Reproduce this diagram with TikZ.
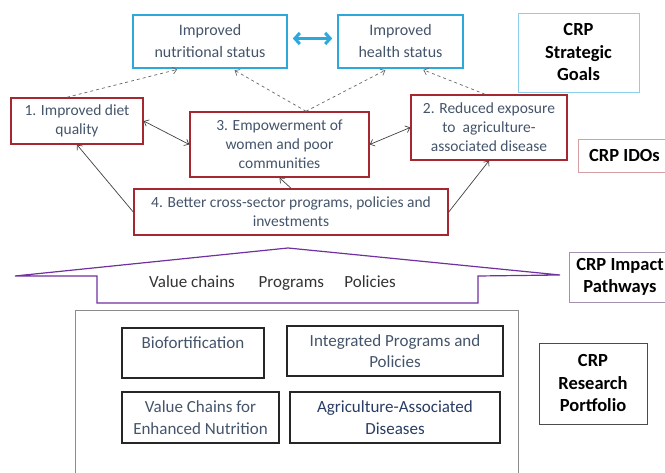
\documentclass[tikz,border=0pt]{standalone}
\usepackage{fontspec}
\setmainfont{Carlito}
\usetikzlibrary{arrows.meta,positioning,calc}

\definecolor{goalblue}{RGB}{45,168,218}
\definecolor{idored}{RGB}{165,40,48}
\definecolor{pathpurple}{RGB}{112,48,160}
\definecolor{slate}{RGB}{68,84,106}

\begin{document}
\begin{tikzpicture}[x=1pt, y=-1pt, >={Straight Barb[length=4pt,width=7pt]},
  every node/.style={font=\fontsize{15.5}{19}\selectfont, align=center, text=slate, inner sep=0pt},
  goalbox/.style={draw=goalblue, line width=1.6pt, font=\fontsize{16}{22}\selectfont},
  idobox/.style={draw=idored, line width=1.5pt},
  resbox/.style={draw=black!85, line width=1.2pt, font=\fontsize{17}{21.5}\selectfont},
  tag/.style={font=\bfseries\fontsize{18.5}{22.5}\selectfont, text=black, line width=0.8pt},
  link/.style={->, draw=black!75, line width=0.7pt},
  hint/.style={->, dashed, draw=black!60, line width=0.7pt, shorten >=3pt}]
\useasboundingbox (0,0) rectangle (665,473);

% strategic goals
\node[goalbox, minimum width=154pt, minimum height=53pt] (nutr) at (210,41.5) {Improved\\nutritional status};
\node[goalbox, minimum width=125pt, minimum height=53pt] (health) at (400.5,41.5) {Improved\\health status};
\node[tag, draw=goalblue!55, minimum width=121pt, minimum height=79pt] (goals) at (578.5,52.5) {CRP\\Strategic\\Goals};

% intermediate development outcomes
\node[idobox, minimum width=132pt, minimum height=46pt] (ido1) at (77,121) {1. Improved diet\\quality};
\node[idobox, minimum width=179pt, minimum height=65pt] (ido3) at (279.5,144.5) {3. Empowerment of\\women and poor\\communities};
\node[idobox, minimum width=156pt, minimum height=65pt] (ido2) at (489,127.5) {2. Reduced exposure\\to\ \ agriculture-\\associated disease};
\node[idobox, minimum width=314pt, minimum height=46pt] (ido4) at (291,212) {4. Better cross-sector programs, policies and\\investments};
\node[tag, draw=idored!45, minimum width=93pt, minimum height=33pt] (idos) at (624.5,155.5) {CRP IDOs};

\draw[goalblue, line width=3pt, {Straight Barb[length=5pt,width=11pt]}-{Straight Barb[length=5pt,width=11pt]}, shorten <=5pt, shorten >=5pt] ([yshift=3pt]nutr.east) -- ([yshift=3pt]health.west);

\draw[hint] ([xshift=-10pt]ido1.north) -- ([xshift=-30pt]nutr.south);
\draw[hint] ([xshift=26.5pt]ido3.north) -- ([xshift=22pt]nutr.south);
\draw[hint] ([xshift=26.5pt]ido3.north) -- ([xshift=-12.5pt]health.south);
\draw[hint] ([xshift=-4pt]ido2.north) -- ([xshift=20pt]health.south);

\draw[link, <->] (ido1.east) -- (ido3.west);
\draw[link, <->] (ido3.east) -- (ido2.west);
\draw[link] (ido4.west) -- (ido1.south);
\draw[link] (ido4.north) -- (ido3.south);
\draw[link] (ido4.east) -- (ido2.south);

% impact pathways
\draw[pathpurple, line width=1.2pt] (15,276) -- (288,248) -- (560,275) -- (478,276) -- (478,303) -- (97,303) -- (97,276) -- cycle;
\node[font=\fontsize{17}{21}\selectfont, text=black!80] (routes) at (272.5,283) {Value chains\hspace{1.4em}Programs\hspace{1.2em}Policies};
\node[tag, draw=pathpurple!35!gray!70, minimum width=102pt, minimum height=50pt] (paths) at (620,277) {CRP Impact\\Pathways};

% research portfolio
\node[draw=black!45, line width=1pt, minimum width=443pt, minimum height=180pt] (portfolio) at (296.5,401) {};
\node[resbox, minimum width=142pt, minimum height=50pt] (bio) at (193,353) {Biofortification\\~};
\node[resbox, minimum width=216pt, minimum height=50pt] (integ) at (395,351) {Integrated Programs and\\Policies};
\node[resbox, minimum width=157pt, minimum height=51pt] (vchain) at (200.5,417.5) {Value Chains for\\Enhanced Nutrition};
\node[resbox, minimum width=210pt, minimum height=51pt, text={rgb,255:red,40;green,60;blue,100}] (agri) at (395,417.5) {Agriculture-Associated\\Diseases};
\node[tag, draw=black!70, minimum width=108pt, minimum height=81pt] (portlabel) at (593,383.5) {CRP\\Research\\Portfolio};
\end{tikzpicture}
\end{document}
